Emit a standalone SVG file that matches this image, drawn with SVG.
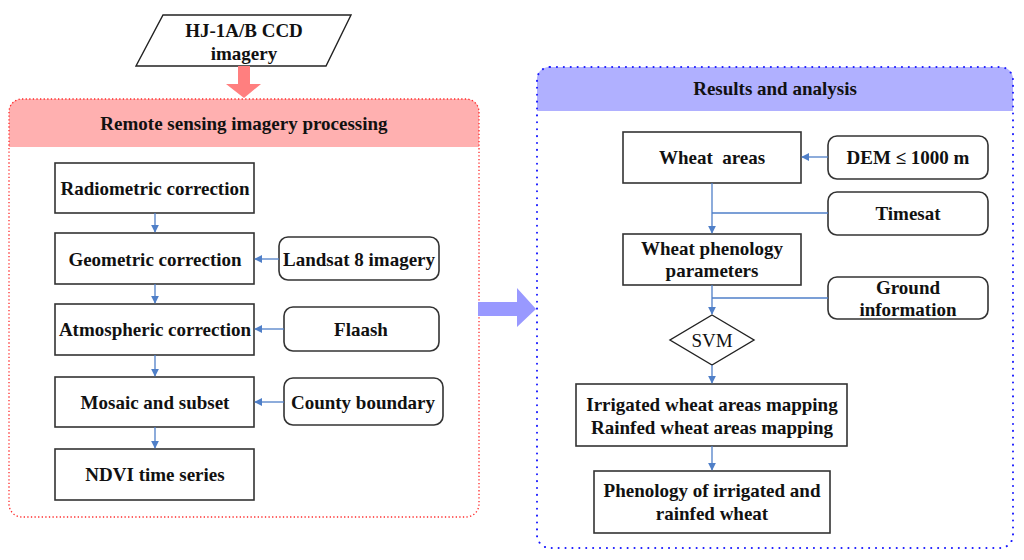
<svg xmlns="http://www.w3.org/2000/svg" width="1024" height="560" viewBox="0 0 1024 560">
<style>
text{font-family:"Liberation Serif","Times New Roman",serif;font-weight:bold;font-size:19px;fill:#111;text-anchor:middle;dominant-baseline:central}
.box{fill:#fff;stroke:#333;stroke-width:1.6}
.con{stroke:#4f7fc8;stroke-width:1.3;fill:none}
</style>
<defs>
<marker id="ah" viewBox="0 0 10 10" refX="9" refY="5" markerWidth="8" markerHeight="8" markerUnits="userSpaceOnUse" orient="auto">
<path d="M0,0 L10,5 L0,10 z" fill="#4f7fc8"/>
</marker>
</defs>
<rect width="1024" height="560" fill="#fff"/>

<g id="input">
<polygon points="163,15 351,15 326,66 136,66" fill="#fff" stroke="#222" stroke-width="1.4"/>
<text x="244" y="30">HJ-1A/B CCD</text>
<text x="244" y="53">imagery</text>
</g>
<polygon id="red-arrow" points="238,66 250,66 250,84 261,84 244,98 226,84 238,84" fill="#ff7f7f"/>

<g id="processing-container">
<path d="M9,111 a12,12 0 0 1 12,-12 H467 a12,12 0 0 1 12,12 V147 H9 Z" fill="#ffb0b0"/>
<rect x="9" y="99" width="470" height="418" rx="13" fill="none" stroke="#ff2a2a" stroke-width="1.3" stroke-dasharray="1.3 2.3"/>
<text x="244" y="123">Remote sensing imagery processing</text>
</g>

<g id="radiometric"><rect class="box" x="55" y="163" width="199" height="50"/><text x="155" y="188">Radiometric correction</text></g>
<g id="geometric"><rect class="box" x="55" y="233" width="199" height="51"/><text x="155" y="259">Geometric correction</text></g>
<g id="atmospheric"><rect class="box" x="55" y="304" width="199" height="51"/><text x="155" y="329">Atmospheric correction</text></g>
<g id="mosaic"><rect class="box" x="55" y="377" width="199" height="50"/><text x="155" y="402">Mosaic and subset</text></g>
<g id="ndvi"><rect class="box" x="55" y="449" width="199" height="51"/><text x="155" y="474">NDVI time series</text></g>
<g id="landsat"><rect class="box" x="279" y="237" width="160" height="43" rx="9"/><text x="359" y="259">Landsat 8 imagery</text></g>
<g id="flaash"><rect class="box" x="284" y="307" width="155" height="44" rx="9"/><text x="361" y="329">Flaash</text></g>
<g id="county"><rect class="box" x="284" y="378" width="159" height="47" rx="9"/><text x="363" y="402">County boundary</text></g>

<polygon id="blue-arrow" points="478,302 517,302 517,288 536,309 517,327 517,316 478,316" fill="#9999ff"/>

<g id="results-container">
<path d="M537,79 a12,12 0 0 1 12,-12 H1001 a12,12 0 0 1 12,12 V111 H537 Z" fill="#b0b0ff"/>
<rect x="537" y="67" width="476" height="481" rx="13" fill="none" stroke="#1a1aff" stroke-width="2" stroke-linecap="round" stroke-dasharray="0.1 6.8"/>
<text x="775" y="88">Results and analysis</text>
</g>

<g id="wheat-areas"><rect class="box" x="623" y="132" width="178" height="51"/><text x="712" y="157" xml:space="preserve">Wheat  areas</text></g>
<g id="dem"><rect class="box" x="828" y="136" width="160" height="43" rx="9"/><text x="908" y="157">DEM ≤ 1000 m</text></g>
<g id="timesat"><rect class="box" x="828" y="192" width="160" height="43" rx="9"/><text x="908" y="213">Timesat</text></g>
<g id="phenology-params"><rect class="box" x="623" y="234" width="178" height="51"/><text x="712" y="248">Wheat phenology</text><text x="712" y="270">parameters</text></g>
<g id="ground"><rect class="box" x="828" y="277" width="160" height="42" rx="9"/><text x="908" y="287">Ground</text><text x="908" y="309">information</text></g>
<g id="svm"><polygon points="712,315 754,340 712,365 670,340" fill="#fff" stroke="#222" stroke-width="1.4"/><text x="712" y="340" style="font-weight:normal">SVM</text></g>
<g id="mapping"><rect class="box" x="576" y="384" width="271" height="62"/><text x="712" y="404">Irrigated wheat areas mapping</text><text x="712" y="427">Rainfed wheat areas mapping</text></g>
<g id="phenology-result"><rect class="box" x="594" y="471" width="236" height="62"/><text x="712" y="490">Phenology of irrigated and</text><text x="712" y="513">rainfed wheat</text></g>

<g id="connectors">
<line class="con" x1="155" y1="213" x2="155" y2="232" marker-end="url(#ah)"/>
<line class="con" x1="155" y1="284" x2="155" y2="303" marker-end="url(#ah)"/>
<line class="con" x1="155" y1="355" x2="155" y2="376" marker-end="url(#ah)"/>
<line class="con" x1="155" y1="427" x2="155" y2="448" marker-end="url(#ah)"/>
<line class="con" x1="279" y1="259" x2="255" y2="259" marker-end="url(#ah)"/>
<line class="con" x1="284" y1="329" x2="255" y2="329" marker-end="url(#ah)"/>
<line class="con" x1="284" y1="402" x2="255" y2="402" marker-end="url(#ah)"/>
<line class="con" x1="828" y1="157" x2="802" y2="157" marker-end="url(#ah)"/>
<line class="con" x1="712" y1="183" x2="712" y2="233" marker-end="url(#ah)"/>
<line class="con" x1="712" y1="213" x2="828" y2="213"/>
<line class="con" x1="712" y1="285" x2="712" y2="314" marker-end="url(#ah)"/>
<line class="con" x1="712" y1="298" x2="828" y2="298"/>
<line class="con" x1="712" y1="365" x2="712" y2="383" marker-end="url(#ah)"/>
<line class="con" x1="712" y1="446" x2="712" y2="470" marker-end="url(#ah)"/>
</g>
</svg>
